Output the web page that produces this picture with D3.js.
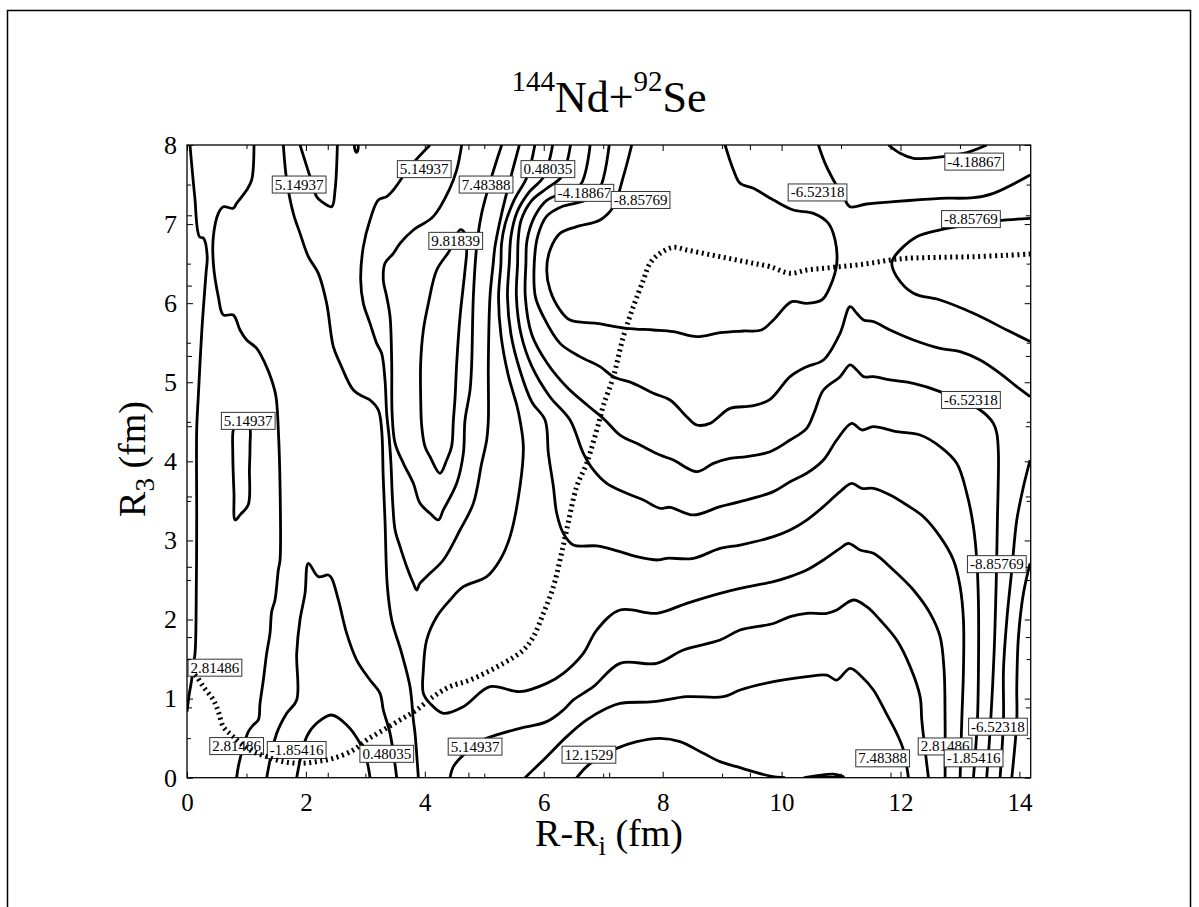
<!DOCTYPE html>
<html>
<head>
<meta charset="utf-8">
<script src="https://cdn.jsdelivr.net/npm/d3@7/dist/d3.min.js"></script>
<style>
  body { margin: 0; background: #fff; }
  svg { display: block; font-family: "Liberation Serif", "Times New Roman", Times, serif; }
</style>
</head>
<body>
<script>
// axis ticks
const xTickLabels = [0, 2, 4, 6, 8, 10, 12, 14];
const yTickLabels = [0, 1, 2, 3, 4, 5, 6, 7, 8];
const xMinorTicks = [1, 3, 5, 7, 9, 11, 13];
const yMinorTicks = [0.5, 1.5, 2.5, 3.5, 4.5, 5.5, 6.5, 7.5];
const xExtraTicks = [2.367, 4.733, 7.1, 9.467, 11.833];
const yExtraTicks = [0.889, 1.778, 2.667, 3.556, 4.444, 5.333, 6.222, 7.111];

// contour lines, [R-Ri, R3] in fm
const cLeftEdge = [[0.05,8.0],[0.13,7.35],[0.21,6.84],[0.28,6.82],[0.34,6.59],[0.32,6.38],[0.25,5.66],[0.19,4.82],[0.163,4.4],[0.163,3.26],[0.152,1.99],[0.135,1.57],[0.1,1.4],[0.078,1.235],[0.04,1.067],[0.0,0.835]];
const cLeft2 = [[1.127,8.0],[1.088,7.558],[1.004,7.431],[0.835,7.263],[0.779,7.2],[0.611,7.22],[0.527,7.136],[0.443,6.841],[0.443,6.504],[0.527,6.082],[0.611,5.851],[0.779,5.851],[0.891,5.661],[1.004,5.535],[1.172,5.429],[1.312,5.239],[1.424,5.029],[1.497,4.818],[1.536,4.396],[1.565,3.68],[1.565,2.753],[1.536,2.626],[1.48,2.247],[1.424,2.099],[1.396,1.825],[1.34,1.572],[1.284,1.235],[1.228,0.94],[1.2,0.73],[1.116,0.667],[1.032,0.582],[0.947,0.392],[0.863,0.14],[0.835,0.0]];
const cLoopSmall = [[0.85,4.5],[0.78,4.4],[0.77,4.1],[0.79,3.6],[0.81,3.26],[0.9,3.33],[1.03,3.45],[1.05,3.9],[1.06,4.2],[1.05,4.45],[0.95,4.52]];
const cLeft3 = [[1.62,8.0],[1.676,7.558],[1.788,7.136],[1.901,6.883],[2.041,6.588],[2.209,6.377],[2.349,5.998],[2.461,5.45],[2.574,5.239],[2.798,4.902],[2.966,4.818],[3.078,4.776],[3.218,4.649],[3.274,4.396],[3.3,3.8],[3.33,3.259],[3.37,2.415],[3.443,1.994],[3.611,1.572],[3.751,1.151],[3.807,0.73],[3.835,0.561],[3.891,0.0]];
const cTopU = [[1.901,8.0],[2.069,7.6],[2.181,7.347],[2.265,7.284],[2.433,7.22],[2.49,7.431],[2.529,8.0]];
const cTopBlob = [[2.82,8.0],[2.835,7.92],[2.86,7.91],[2.875,8.0]];
const cHumpA = [[1.34,0.0],[1.509,0.561],[1.677,0.814],[1.845,0.983],[1.845,1.572],[1.9,1.994],[1.985,2.331],[2.041,2.711],[2.209,2.542],[2.377,2.563],[2.433,2.521],[2.546,2.247],[2.686,1.825],[2.854,1.488],[3.078,1.235],[3.246,1.067],[3.302,0.856],[3.415,0.561],[3.527,0.0]];
const cHumpB = [[1.845,0],[2.013,0.519],[2.181,0.688],[2.433,0.793],[2.686,0.667],[2.91,0.435],[3.022,0.224],[3.078,0.0]];
const c515 = [[4.087,8.0],[3.751,7.726],[3.471,7.431],[3.359,7.347],[3.218,7.305],[3.078,7.052],[2.966,6.715],[2.921,6.293],[2.966,5.998],[3.078,5.745],[3.19,5.492],[3.274,5.366],[3.33,5.029],[3.359,4.6],[3.4,4.3],[3.43,3.975],[3.46,3.47],[3.5,3.132],[3.583,2.921],[3.695,2.668],[3.807,2.458],[3.863,2.373],[3.919,2.458],[4.087,2.584],[4.311,2.753],[4.592,3.132],[4.816,3.469],[4.956,3.975],[5.04,4.27],[5.068,4.523],[5.068,5.239],[5.096,6.082],[5.15,6.5],[5.18,6.715],[5.293,7.136],[5.433,7.558],[5.59,8.0]];
const c748 = [[4.62,8.0],[4.536,7.684],[4.42,7.45],[4.14,7.094],[3.807,6.925],[3.583,6.757],[3.471,6.63],[3.33,6.504],[3.302,6.293],[3.359,6.082],[3.415,5.83],[3.443,5.239],[3.45,4.6],[3.5,4.228],[3.639,3.975],[3.807,3.722],[3.919,3.469],[4.087,3.343],[4.228,3.259],[4.311,3.385],[4.536,3.722],[4.648,4.101],[4.676,4.523],[4.76,4.9],[4.788,5.239],[4.816,6.082],[4.872,6.715],[4.956,7.136],[5.124,7.6],[5.293,8.0]];
const c982 = [[4.42,6.67],[4.2,6.42],[4.06,6.0],[3.975,5.66],[3.93,5.24],[3.93,4.82],[3.947,4.45],[4.003,4.186],[4.087,4.059],[4.255,3.849],[4.368,4.017],[4.45,4.186],[4.48,4.52],[4.508,4.8],[4.536,5.24],[4.592,5.83],[4.676,6.42],[4.704,6.69],[4.66,6.9],[4.6,6.93],[4.5,6.82]];
const cFan281 = [[5.85,8.0],[5.72,7.6],[5.5,7.3],[5.35,7.0],[5.29,6.75],[5.28,6.5],[5.24,6.08],[5.28,5.6],[5.4,5.1],[5.55,4.7],[5.6,4.523],[5.657,4.186],[5.6,3.68],[5.433,3.048],[5.265,2.753],[5.04,2.542],[4.648,2.415],[4.424,2.247],[4.2,2.036],[4.031,1.741],[3.975,1.362],[3.975,1.067],[4.087,0.94],[4.311,0.814],[4.648,0.898],[5.096,1.151],[5.6,1.088],[6.05,1.193],[6.33,1.32],[6.666,1.572],[6.891,1.867],[7.283,2.12],[7.9,2.078],[8.405,2.205],[8.965,2.331],[9.302,2.394],[9.863,2.479],[10.143,2.542],[10.423,2.626],[10.704,2.753],[10.984,2.9],[11.124,2.963],[11.32,2.879],[11.545,2.837],[11.881,2.626],[12.218,2.373],[12.498,2.078],[12.666,1.783],[12.733,1.362],[12.75,0.73],[12.75,0]];
const cFan048 = [[6.15,8.0],[6.0,7.6],[5.75,7.4],[5.55,7.15],[5.45,6.85],[5.42,6.5],[5.39,6.08],[5.45,5.6],[5.6,5.15],[5.8,4.75],[6.022,4.523],[6.078,4.101],[6.162,3.68],[6.218,3.343],[6.33,3.09],[6.498,2.942],[6.891,2.93],[7.283,2.858],[7.564,2.795],[7.928,2.753],[8.068,2.774],[8.517,2.774],[8.965,2.9],[9.302,2.942],[9.863,3.048],[10.143,3.132],[10.423,3.258],[10.704,3.427],[10.984,3.617],[11.18,3.722],[11.348,3.659],[11.545,3.659],[11.825,3.575],[12.106,3.448],[12.386,3.3],[12.666,3.048],[12.89,2.753],[13.003,2.415],[13.059,1.994],[13.059,1.362],[13.031,0.73],[13.003,0]];
const cFan185 = [[6.45,8.0],[6.3,7.6],[6.05,7.45],[5.8,7.3],[5.62,7.05],[5.57,6.8],[5.56,6.5],[5.54,6.08],[5.62,5.6],[5.8,5.2],[6.1,4.82],[6.442,4.523],[6.666,4.101],[6.835,3.891],[7.059,3.722],[7.395,3.596],[7.676,3.511],[7.956,3.406],[8.124,3.419],[8.517,3.322],[8.965,3.427],[9.302,3.49],[9.863,3.617],[10.143,3.743],[10.423,3.849],[10.704,4.017],[10.928,4.27],[11.18,4.48],[11.348,4.397],[11.545,4.439],[11.937,4.376],[12.33,4.333],[12.666,4.186],[12.946,3.975],[13.115,3.596],[13.227,3.174],[13.283,2.753],[13.311,2.205],[13.311,1.362],[13.294,0.73],[13.227,0]];
const cFan419 = [[6.78,8.0],[6.62,7.5],[6.35,7.4],[6.05,7.3],[5.85,7.1],[5.72,6.8],[5.7,6.5],[5.69,6.08],[5.8,5.6],[6.05,5.25],[6.4,4.93],[6.75,4.7],[7.03,4.523],[7.283,4.333],[7.62,4.207],[7.956,4.08],[8.18,4.017],[8.573,3.87],[8.853,3.975],[9.133,4.038],[9.414,4.059],[9.806,4.122],[10.143,4.27],[10.423,4.418],[10.55,4.62],[10.704,4.902],[10.984,5.071],[11.152,5.219],[11.264,5.155],[11.377,5.071],[11.545,5.071],[11.825,5.029],[12.218,4.986],[12.666,4.881],[13.0,4.76],[13.339,4.649],[13.563,4.48],[13.62,4.355],[13.647,4.102],[13.63,3.258],[13.608,2.415],[13.574,1.572],[13.518,0.73],[13.45,0.0]];
const cFan652 = [[7.1,8.0],[6.94,7.45],[6.7,7.3],[6.3,7.22],[6.05,7.1],[5.9,6.85],[5.84,6.5],[5.86,6.08],[5.994,5.83],[6.274,5.492],[6.61,5.324],[6.947,5.197],[7.171,5.071],[7.507,4.986],[7.844,4.86],[8.124,4.776],[8.405,4.565],[8.573,4.46],[8.797,4.48],[9.133,4.67],[9.5,4.7],[9.8,4.78],[10.143,5.071],[10.423,5.197],[10.704,5.281],[10.984,5.619],[11.152,5.956],[11.264,5.872],[11.377,5.787],[11.545,5.766],[11.825,5.661],[12.218,5.535],[12.666,5.429],[13.003,5.387],[13.339,5.282],[13.675,5.113],[13.956,4.944],[14.18,4.818]];
const cBasin = [[7.48,8.0],[7.339,7.6],[7.171,7.22],[6.947,7.052],[6.554,6.968],[6.274,6.883],[6.106,6.673],[6.05,6.42],[6.106,6.167],[6.274,5.914],[6.442,5.787],[6.891,5.745],[7.395,5.682],[7.844,5.661],[8.18,5.64],[8.573,5.577],[8.965,5.627],[9.358,5.648],[9.66,5.66],[9.863,5.787],[10.171,6.019],[10.423,5.998],[10.676,6.04],[10.816,6.209],[10.928,6.504],[10.9,6.799],[10.788,7.01],[10.536,7.136],[10.199,7.178],[9.863,7.305],[9.526,7.452],[9.302,7.516],[9.19,7.684],[9.05,8.0]];
const cRightTop652 = [[10.62,8.0],[10.732,7.768],[10.872,7.558],[11.04,7.347],[11.152,7.22],[11.433,7.254],[11.881,7.284],[12.274,7.305],[12.666,7.326],[13.227,7.334],[13.563,7.389],[14.18,7.621]];
const cRightTop419 = [[11.797,8.0],[11.993,7.895],[12.218,7.832],[12.442,7.832],[12.722,7.853],[13.1,7.9],[13.451,8.0]];
const cRightBasin = [[14.18,7.073],[13.788,7.052],[13.2,7.0],[12.666,6.926],[12.274,6.841],[12.05,6.715],[11.881,6.567],[11.853,6.504],[11.937,6.335],[12.218,6.125],[12.666,6.04],[13.227,5.872],[13.788,5.661],[14.18,5.514]];
const cLow515 = [[4.424,0],[4.48,0.14],[4.648,0.287],[4.9,0.45],[5.293,0.561],[5.6,0.624],[6.05,0.709],[6.33,0.856],[6.498,0.983],[6.835,1.151],[7.283,1.446],[7.9,1.446],[8.348,1.615],[8.965,1.741],[9.302,1.867],[9.863,1.95],[10.143,2.036],[10.423,2.078],[10.76,2.078],[10.928,2.12],[11.208,2.247],[11.433,2.162],[11.657,1.994],[11.937,1.741],[12.162,1.404],[12.33,1.024],[12.358,0.73],[12.414,0.35],[12.47,0]];
const cLow748 = [[5.685,0],[6.05,0.266],[6.386,0.519],[6.722,0.73],[7.059,0.877],[7.283,0.94],[7.844,0.961],[8.405,1.024],[9.021,1.024],[9.302,1.109],[9.863,1.214],[10.423,1.277],[10.76,1.298],[10.928,1.235],[11.152,1.383],[11.348,1.277],[11.545,1.109],[11.77,0.8],[11.937,0.561],[12.05,0.35],[12.134,0]];
const cPeak1215 = [[6.554,0],[6.722,0.14],[6.947,0.266],[7.227,0.371],[7.564,0.456],[7.956,0.498],[8.292,0.456],[8.685,0.308],[8.965,0.203],[9.246,0.14],[9.526,0.076],[9.806,0.021],[10.06,0]];
const cSliver = [[10.37,0],[10.6,0.025],[10.87,0.045],[11.04,0.012],[10.87,0.004],[10.6,0.002]];
const cEdge1 = [[14.18,4.017],[14.068,3.68],[13.956,3.258],[13.872,2.626],[13.788,1.994],[13.732,1.362],[13.732,0.73],[13.675,0]];
const cEdge2 = [[14.18,2.71],[14.068,2.331],[13.984,1.783],[13.956,1.151],[13.956,0.73],[13.872,0]];

// dotted reaction path
const reactionPath = [[0.13,1.3],[0.163,1.277],[0.275,1.151],[0.443,0.983],[0.53,0.83],[0.611,0.645],[0.779,0.519],[1.06,0.35],[1.34,0.266],[1.62,0.203],[1.901,0.182],[2.181,0.203],[2.461,0.245],[2.798,0.35],[3.022,0.477],[3.302,0.603],[3.583,0.73],[3.85,0.85],[4.14,1.024],[4.42,1.151],[4.76,1.235],[5.32,1.446],[5.657,1.615],[5.825,1.783],[5.994,2.078],[6.162,2.415],[6.274,2.753],[6.386,3.132],[6.554,3.68],[6.722,3.975],[6.93,4.5],[7.0,4.7],[7.171,5.071],[7.339,5.577],[7.507,5.956],[7.676,6.293],[7.788,6.504],[7.956,6.63],[8.18,6.706],[8.405,6.673],[8.685,6.63],[8.965,6.588],[9.246,6.546],[9.526,6.504],[9.806,6.462],[10.143,6.378],[10.423,6.42],[10.704,6.441],[10.984,6.462],[11.264,6.483],[11.545,6.512],[11.825,6.546],[12.106,6.567],[12.666,6.58],[13.227,6.588],[13.788,6.605],[14.18,6.622]];

// contour labels
const labelText = ["5.14937","5.14937","5.14937","5.14937","7.48388","0.48035","-4.18867","-8.85769","9.81839","-6.52318","-4.18867","-8.85769","-6.52318","-8.85769","2.81486","2.81486","-1.85416","0.48035","12.1529","7.48388","2.81486","-1.85416","-6.52318"];
const labelR  = [1.886, 3.99, 1.03, 4.845, 5.03, 6.07, 6.683, 7.628, 4.52, 10.605, 13.24, 13.185, 13.185, 13.62, 0.47, 0.835, 1.845, 3.36, 6.76, 11.7, 12.75, 13.23, 13.64];
const labelR3 = [7.5, 7.695, 4.512, 0.393, 7.5, 7.695, 7.395, 7.305, 6.788, 7.4, 7.79, 7.063, 4.776, 2.7, 1.391, 0.4, 0.35, 0.302, 0.291, 0.245, 0.395, 0.245, 0.645];

const openLines = [cLeftEdge, cLeft2, cLeft3, cTopU, cHumpA, cHumpB, c515, c748, cFan281, cFan048, cFan185, cFan419, cFan652, cBasin, cRightTop652, cRightTop419, cRightBasin, cLow515, cLow748, cPeak1215, cEdge1, cEdge2];
const closedLines = [cLoopSmall, cTopBlob, c982, cSliver];

const W = 1199, H = 907;
const serif = '"Liberation Serif", "Times New Roman", Times, serif';
const svg = d3.select('body').append('svg').attr('width', W).attr('height', H);

svg.append('rect')
   .attr('x', 7.5).attr('y', 10.5)
   .attr('width', 1183).attr('height', 1000)
   .attr('fill', 'none').attr('stroke', '#000').attr('stroke-width', 1.5);

const x = d3.scaleLinear().domain([0, 14.19]).range([187, 1030.7]);
const y = d3.scaleLinear().domain([0, 8]).range([777.7, 145]);

svg.append('clipPath').attr('id', 'plotclip')
   .append('rect')
   .attr('x', x(0)).attr('y', y(8))
   .attr('width', x(14.19) - x(0)).attr('height', y(0) - y(8));

const plot = svg.append('g').attr('clip-path', 'url(#plotclip)');

const lineOpen = d3.line().x(d => x(d[0])).y(d => y(d[1])).curve(d3.curveCatmullRom.alpha(0.5));
const lineClosed = d3.line().x(d => x(d[0])).y(d => y(d[1])).curve(d3.curveCatmullRomClosed.alpha(0.5));

plot.selectAll('path.open')
    .data(openLines)
    .enter().append('path')
    .attr('class', 'open')
    .attr('d', lineOpen)
    .attr('fill', 'none').attr('stroke', '#000')
    .attr('stroke-width', 2.8).attr('stroke-linejoin', 'round');

plot.selectAll('path.closed')
    .data(closedLines)
    .enter().append('path')
    .attr('class', 'closed')
    .attr('d', lineClosed)
    .attr('fill', 'none').attr('stroke', '#000')
    .attr('stroke-width', 2.8).attr('stroke-linejoin', 'round');

// labels on the contours
const labels = plot.selectAll('g.lab')
    .data(labelText.map((t, i) => ({ t: t, r: labelR[i], r3: labelR3[i] })))
    .enter().append('g').attr('class', 'lab');

labels.each(function(d) {
  const g = d3.select(this);
  const rect = g.append('rect');
  const txt = g.append('text')
      .attr('x', x(d.r)).attr('y', y(d.r3) + 5)
      .attr('text-anchor', 'middle')
      .attr('font-family', serif)
      .attr('font-size', 15)
      .attr('fill', '#000')
      .text(d.t);
  const w = txt.node().getComputedTextLength() + 5;
  rect.attr('x', x(d.r) - w / 2).attr('y', y(d.r3) - 8.5)
      .attr('width', w).attr('height', 17)
      .attr('fill', '#fff').attr('stroke', '#333').attr('stroke-width', 1);
});

plot.append('path')
    .datum(reactionPath)
    .attr('d', lineOpen)
    .attr('fill', 'none').attr('stroke', '#000')
    .attr('stroke-width', 5).attr('stroke-dasharray', '2,3.6');

// axes with inward ticks on all four sides
const axisG = svg.append('g');

function tickSet(axisFn, scale, values, size, transform, withLabels) {
  const a = axisFn(scale).tickValues(values).tickSize(-size);
  if (withLabels) a.tickFormat(d3.format('d'));
  else a.tickFormat('');
  const g = axisG.append('g').attr('transform', transform).call(a);
  g.select('.domain').remove();
  g.selectAll('line').attr('stroke', '#000').attr('stroke-width', 1);
  g.selectAll('text').attr('font-family', serif).attr('fill', '#000');
  return g;
}

const bottomT = `translate(0,${y(0)})`;
const topT = `translate(0,${y(8)})`;
const leftT = `translate(${x(0)},0)`;
const rightT = `translate(${x(14.19)},0)`;

const gxLab = tickSet(d3.axisBottom, x, xTickLabels, 6, bottomT, true);
gxLab.selectAll('.tick text').attr('font-size', 25).attr('y', 15.5);
tickSet(d3.axisBottom, x, xMinorTicks, 4, bottomT, false);
tickSet(d3.axisBottom, x, xExtraTicks, 5, bottomT, false);
tickSet(d3.axisTop, x, xTickLabels, 6, topT, false);
tickSet(d3.axisTop, x, xMinorTicks, 4, topT, false);
tickSet(d3.axisTop, x, xExtraTicks, 5, topT, false);

const gyLab = tickSet(d3.axisLeft, y, yTickLabels, 6, leftT, true);
gyLab.selectAll('.tick text').attr('font-size', 26).attr('x', -10);
tickSet(d3.axisLeft, y, yMinorTicks, 4, leftT, false);
tickSet(d3.axisLeft, y, yExtraTicks, 5, leftT, false);
tickSet(d3.axisRight, y, yTickLabels, 6, rightT, false);
tickSet(d3.axisRight, y, yMinorTicks, 4, rightT, false);
tickSet(d3.axisRight, y, yExtraTicks, 5, rightT, false);

svg.append('rect')
   .attr('x', x(0)).attr('y', y(8))
   .attr('width', x(14.19) - x(0)).attr('height', y(0) - y(8))
   .attr('fill', 'none').attr('stroke', '#000').attr('stroke-width', 1.3);

// title
const title = svg.append('text')
   .attr('x', 609).attr('y', 111.7)
   .attr('text-anchor', 'middle')
   .attr('font-family', serif)
   .attr('font-size', 44).attr('fill', '#000');
title.append('tspan').attr('font-size', 29).attr('dy', -21).text('144');
title.append('tspan').attr('dy', 21).text('Nd+');
title.append('tspan').attr('font-size', 29).attr('dy', -21).text('92');
title.append('tspan').attr('dy', 21).text('Se');

// x axis label
const xl = svg.append('text')
   .attr('x', 609).attr('y', 846)
   .attr('text-anchor', 'middle')
   .attr('font-family', serif)
   .attr('font-size', 38).attr('fill', '#000');
xl.append('tspan').text('R-R');
xl.append('tspan').attr('font-size', 27).attr('dy', 9).text('i');
xl.append('tspan').attr('dy', -9).text(' (fm)');

// y axis label
const yl = svg.append('text')
   .attr('transform', 'translate(145,459) rotate(-90)')
   .attr('text-anchor', 'middle')
   .attr('font-family', serif)
   .attr('font-size', 38).attr('fill', '#000');
yl.append('tspan').text('R');
yl.append('tspan').attr('font-size', 27).attr('dy', 9).text('3');
yl.append('tspan').attr('dy', -9).text(' (fm)');
</script>
</body>
</html>
